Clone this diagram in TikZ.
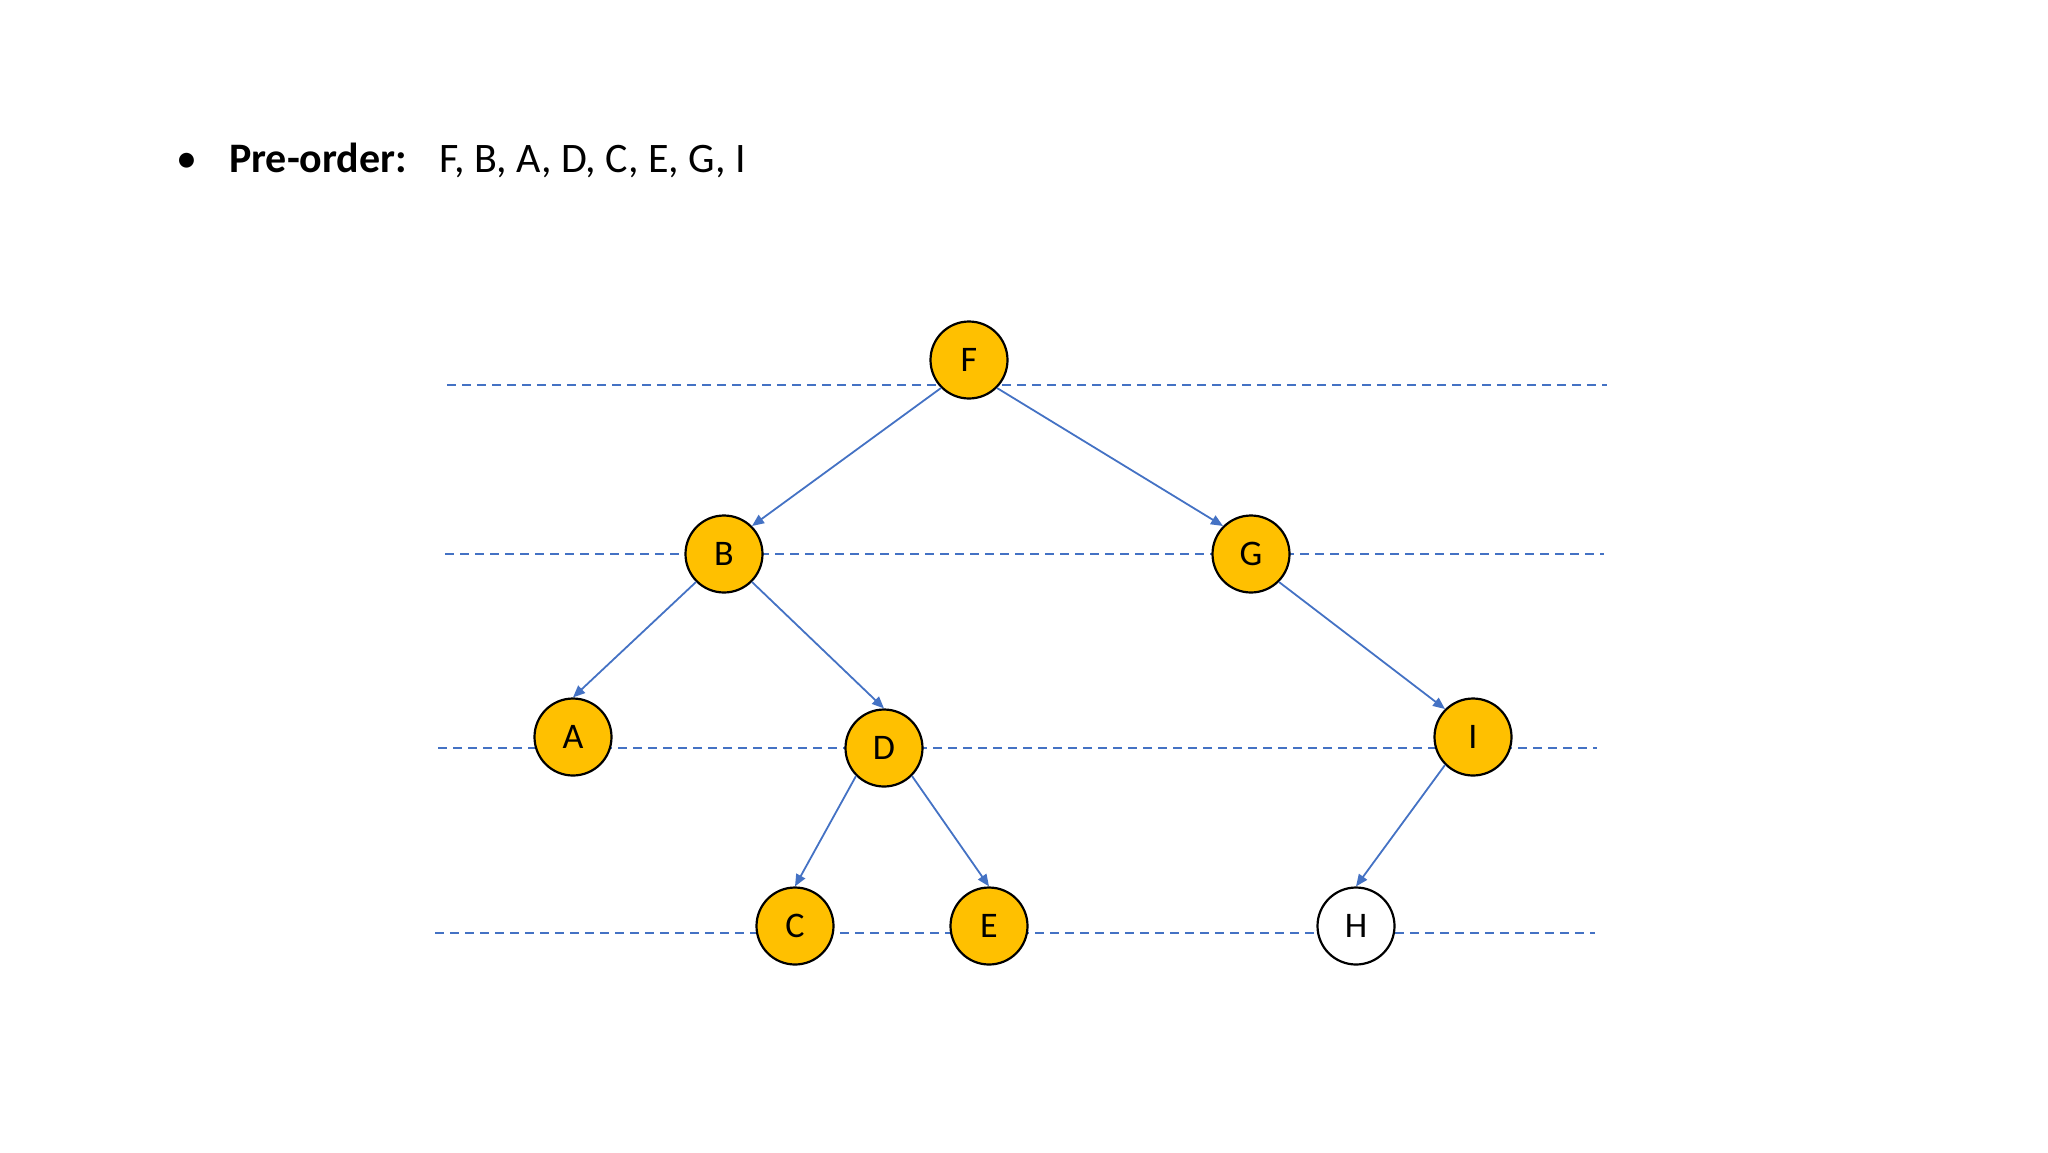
\documentclass[tikz,border=0pt]{standalone}
\usepackage{fontspec}
\setmainfont{Carlito}
\usepackage{tikz}
\usetikzlibrary{arrows.meta}
\definecolor{nodegold}{HTML}{FFC000}
\definecolor{levelblue}{HTML}{4472C4}

\begin{document}
\begin{tikzpicture}[x=1pt, y=-1pt,
  n/.style={circle, draw=black, line width=2.2pt, fill=nodegold, minimum size=77pt, inner sep=0pt, font=\fontsize{36}{36}\selectfont},
  nw/.style={n, fill=white},
  lvl/.style={draw=levelblue, line width=2pt, dash pattern=on 9pt off 6pt},
  e/.style={draw=levelblue, line width=1.8pt, -{Triangle[length=12pt,width=10pt]}},
  txt/.style={anchor=base west, inner sep=0pt, font=\fontsize{42}{50}\selectfont}]
\useasboundingbox (0,0) rectangle (2048,1152);
% heading
\node[txt, anchor=base] (bul) at (187,172) {•};
\node[txt, font=\fontsize{42}{50}\selectfont\bfseries] (lbl) at (229,172) {Pre-order:};
\node[txt] (seq) at (439,172) {F, B, A, D, C, E, G, I};
% level lines
\draw[lvl] (447,385) -- (1607,385);
\draw[lvl] (445,554) -- (1604,554);
\draw[lvl] (438,748) -- (1597,748);
\draw[lvl] (435,933) -- (1595,933);
% tree
\node[n] (F) at (969,360) {F};
\node[n] (B) at (724,554) {B};
\node[n] (G) at (1251,554) {G};
\node[n] (A) at (573,737) {A};
\node[n] (D) at (884,748) {D};
\node[n] (I) at (1473,737) {I};
\node[n] (C) at (795,926) {C};
\node[n] (E) at (989,926) {E};
\node[nw] (H) at (1356,926) {H};
\draw[e] (F.south west) -- (B.north east);
\draw[e] (F.south east) -- (G.north west);
\draw[e] (B.south west) -- (A.north);
\draw[e] (B.south east) -- (D.north);
\draw[e] (G.south east) -- (I.north west);
\draw[e] (D.south west) -- (C.north);
\draw[e] (D.south east) -- (E.north);
\draw[e] (I.south west) -- (H.north);
\end{tikzpicture}
\end{document}
